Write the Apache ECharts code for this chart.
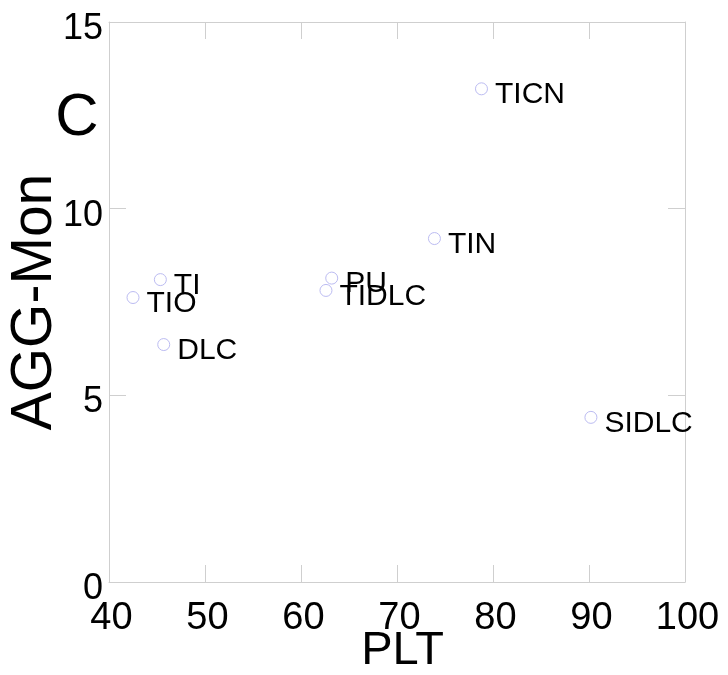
<!DOCTYPE html>
<html>
<head>
<meta charset="utf-8">
<script src="https://cdn.jsdelivr.net/npm/echarts@6/dist/echarts.min.js"></script>
<style>
html,body{margin:0;padding:0;background:#fff;}
#chart{width:728px;height:675px;}
</style>
</head>
<body>
<div id="chart"></div>
<script>
const names = ['TICN', 'TIN', 'TI', 'TIO', 'DLC', 'PU', 'TIDLC', 'SIDLC'];
const pltValues = [78.8, 73.9, 45.35, 42.5, 45.7, 63.2, 62.6, 90.2];
const aggValues = [13.21, 9.20, 8.10, 7.62, 6.36, 8.14, 7.81, 4.41];
const xTicks = [40, 50, 60, 70, 80, 90, 100];
const yTicks = [0, 5, 10, 15];

const FONT = '"Liberation Sans", Arial, sans-serif';
const AXIS_COLOR = '#cfcfcf';

const data = names.map((n, i) => ({ name: n, value: [pltValues[i], aggValues[i]] }));

const chart = echarts.init(document.getElementById('chart'), null, { renderer: 'canvas' });

const baseX = {
  type: 'value', min: xTicks[0], max: xTicks[xTicks.length - 1], interval: 10,
  splitLine: { show: false },
  axisLine: { show: true, onZero: false, lineStyle: { color: AXIS_COLOR, width: 1 } },
  axisTick: { show: true, inside: true, length: 17, lineStyle: { color: AXIS_COLOR } }
};
const baseY = {
  type: 'value', min: yTicks[0], max: yTicks[yTicks.length - 1], interval: 5,
  splitLine: { show: false },
  axisLine: { show: true, onZero: false, lineStyle: { color: AXIS_COLOR, width: 1 } },
  axisTick: { show: true, inside: true, length: 17, lineStyle: { color: AXIS_COLOR } }
};

chart.setOption({
  animation: false,
  backgroundColor: '#ffffff',
  grid: { left: 109, right: 43, top: 22, bottom: 93, containLabel: false, outerBoundsMode: 'none' },
  graphic: [{
    type: 'text', x: 77, y: 118,
    style: { text: 'C', font: '60px ' + FONT, fill: '#000', textAlign: 'center', textVerticalAlign: 'middle' }
  }],
  xAxis: [
    Object.assign({}, baseX, {
      position: 'bottom',
      name: 'PLT', nameLocation: 'middle', nameGap: 69, nameMoveOverlap: false,
      nameTextStyle: { fontFamily: FONT, fontSize: 47, color: '#000', verticalAlign: 'middle', padding: [0, 0, 0, 11] },
      axisLabel: { show: true, margin: 37, fontFamily: FONT, fontSize: 38, color: '#000', verticalAlign: 'middle', padding: [0, 0, 0, 5] }
    }),
    Object.assign({}, baseX, { position: 'top', axisLabel: { show: false } })
  ],
  yAxis: [
    Object.assign({}, baseY, {
      position: 'left',
      name: 'AGG-Mon', nameLocation: 'middle', nameGap: 74, nameMoveOverlap: false,
      nameTextStyle: { fontFamily: FONT, fontSize: 57, color: '#000', verticalAlign: 'middle' },
      axisLabel: { show: true, margin: 6, fontFamily: FONT, fontSize: 36, color: '#000', align: 'right', verticalAlign: 'top', lineHeight: 14 }
    }),
    Object.assign({}, baseY, { position: 'right', axisLabel: { show: false } })
  ],
  series: [{
    type: 'scatter',
    xAxisIndex: 0, yAxisIndex: 0,
    symbol: 'circle', symbolSize: 12,
    itemStyle: { color: 'rgba(0,0,0,0)', borderColor: '#bcbcf2', borderWidth: 1, opacity: 1 },
    label: {
      show: true, position: 'right', distance: 7, offset: [0, 6],
      formatter: p => p.name,
      fontFamily: FONT, fontSize: 30, color: '#000000', opacity: 1
    },
    emphasis: { disabled: true },
    data: data
  }]
});
</script>
</body>
</html>
